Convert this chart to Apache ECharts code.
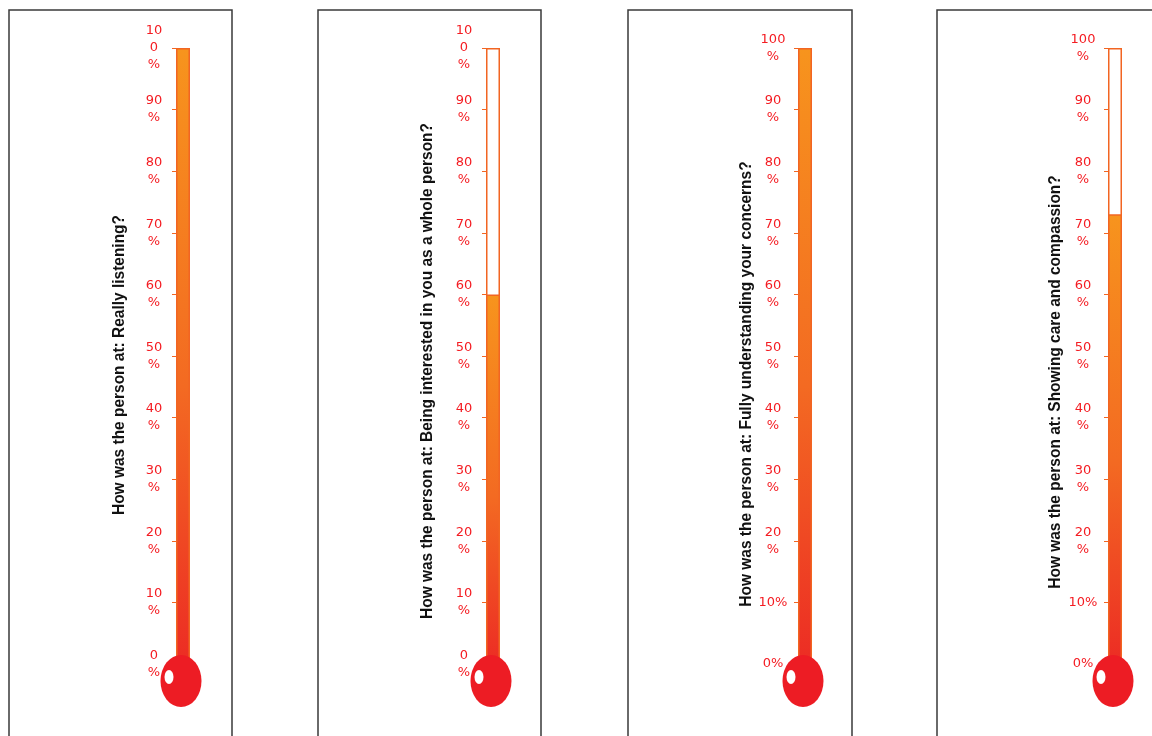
<!DOCTYPE html>
<html>
<head>
<meta charset="utf-8">
<style>
  html, body { margin: 0; padding: 0; background: #ffffff; }
  #chart { width: 1152px; height: 736px; }
</style>
<script src="https://cdn.jsdelivr.net/npm/echarts@6/dist/echarts.min.js"></script>
</head>
<body>
<div id="chart"></div>
<script>
// Survey questions, one thermometer each
const questions = [
  'How was the person at: Really listening?',
  'How was the person at: Being interested in you as a whole person?',
  'How was the person at: Fully understanding your concerns?',
  'How was the person at: Showing care and compassion?'
];
// Percentage score shown in each thermometer
const scores = [100, 60, 100, 73];

// Tick values and their labels (two label styles are used)
const tickValues = [0, 10, 20, 30, 40, 50, 60, 70, 80, 90, 100];
const tickLabelsWrapped = ['0\n%', '10\n%', '20\n%', '30\n%', '40\n%', '50\n%', '60\n%', '70\n%', '80\n%', '90\n%', '10\n0\n%'];
const tickLabelsCompact = ['0%', '10%', '20\n%', '30\n%', '40\n%', '50\n%', '60\n%', '70\n%', '80\n%', '90\n%', '100\n%'];
const labelSets = [tickLabelsWrapped, tickLabelsWrapped, tickLabelsCompact, tickLabelsCompact];

// Layout of each panel
const panels = [
  { frame: [9, 10, 223], tube: 176, labelGap: 22, titleX: 119, titleY: 365 },
  { frame: [318, 10, 223], tube: 486, labelGap: 22, titleX: 427, titleY: 371 },
  { frame: [628, 10, 224], tube: 798, labelGap: 25, titleX: 746, titleY: 384 },
  { frame: [937, 10, 224], tube: 1108, labelGap: 25, titleX: 1055, titleY: 382 }
];
const TUBE_W = 14, TOP = 48, BOTTOM = 664;

const chart = echarts.init(document.getElementById('chart'));

const grid = [], xAxis = [], yAxis = [], series = [], graphic = [];

panels.forEach((p, i) => {
  grid.push({ left: p.tube, top: TOP, width: TUBE_W, height: BOTTOM - TOP });
  xAxis.push({
    gridIndex: i, type: 'category', data: [questions[i]],
    show: false, boundaryGap: true
  });
  const labels = labelSets[i];
  yAxis.push({
    gridIndex: i, type: 'value', min: 0, max: 100, interval: 10,
    axisLine: { show: false },
    splitLine: { show: false },
    axisTick: { show: true, length: 4, lineStyle: { color: '#f26522', width: 1 } },
    axisLabel: {
      margin: p.labelGap,
      align: 'center',
      color: '#f41c22',
      fontFamily: 'DejaVu Sans',
      fontSize: 13,
      lineHeight: 17,
      formatter: v => labels[tickValues.indexOf(v)]
    }
  });
  // empty glass tube
  series.push({
    type: 'bar', xAxisIndex: i, yAxisIndex: i,
    data: [100], barWidth: '100%', barGap: '-100%', silent: true,
    itemStyle: { color: '#ffffff', borderColor: '#f26522', borderWidth: 1.5 },
    z: 2
  });
  // mercury column
  series.push({
    type: 'bar', xAxisIndex: i, yAxisIndex: i,
    data: [scores[i]], barWidth: '100%', barGap: '-100%',
    itemStyle: {
      color: new echarts.graphic.LinearGradient(0, 0, 0, 1, [
        { offset: 0, color: '#f7941d' },
        { offset: 0.55, color: '#f36a22' },
        { offset: 1, color: '#ec2c24' }
      ]),
      borderColor: '#f26522', borderWidth: 1.5
    },
    z: 3
  });
  // bulb at the zero end
  series.push({
    type: 'scatter', xAxisIndex: i, yAxisIndex: i, clip: false, silent: true,
    data: [[0, 0]], symbol: 'circle', symbolSize: [41, 52], symbolOffset: [-2, 17],
    itemStyle: { color: '#ed1c24', opacity: 1 },
    z: 4
  });
  // highlight on the bulb
  series.push({
    type: 'scatter', xAxisIndex: i, yAxisIndex: i, clip: false, silent: true,
    data: [[0, 0]], symbol: 'circle', symbolSize: [9, 14], symbolOffset: [-14, 13],
    itemStyle: { color: '#ffffff', opacity: 1 },
    z: 5
  });

  // panel frame
  graphic.push({
    type: 'rect', silent: true, z: 0,
    shape: { x: p.frame[0], y: p.frame[1], width: p.frame[2], height: 760 },
    style: { fill: 'none', stroke: '#3a3a3a', lineWidth: 1.5 }
  });
  // question title, reading bottom to top, in a condensed bold face
  graphic.push({
    type: 'text', silent: true, z: 10,
    x: p.titleX, y: p.titleY, rotation: Math.PI / 2,
    scaleX: 0.91, scaleY: 1,
    style: {
      text: questions[i],
      fill: '#111111',
      font: 'bold 17px "Liberation Sans", Arial, sans-serif',
      textAlign: 'center',
      textVerticalAlign: 'middle'
    }
  });
});

chart.setOption({
  animation: false,
  backgroundColor: '#ffffff',
  grid, xAxis, yAxis, series, graphic
});
</script>
</body>
</html>
